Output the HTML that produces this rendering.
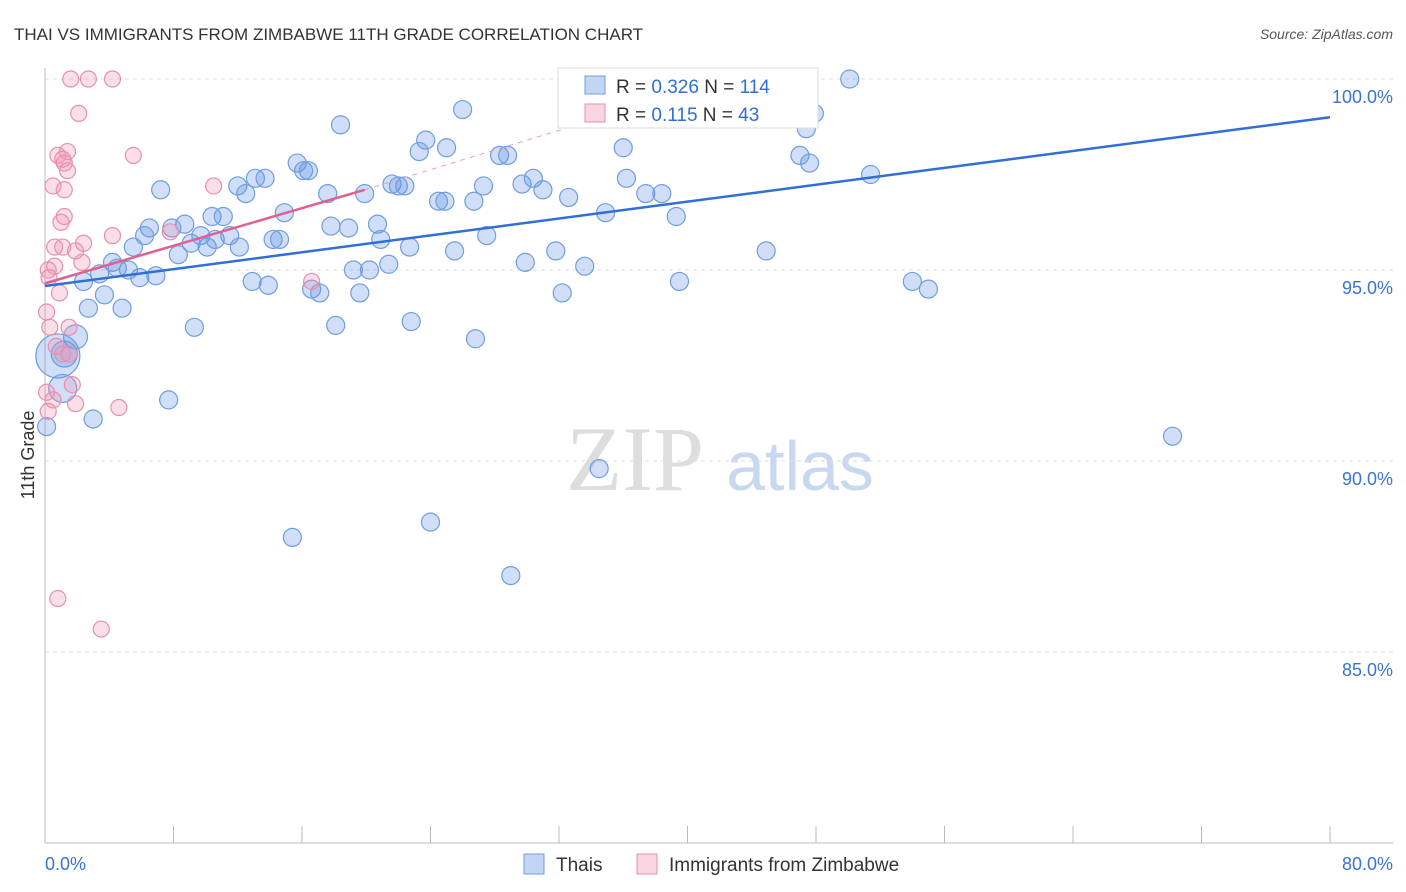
<!DOCTYPE html>
<html><head><meta charset="utf-8"><style>
body{margin:0;background:#fff;font-family:"Liberation Sans",sans-serif;}
svg{display:block}
</style></head><body>
<svg id="chart" width="1406" height="892">
<text x="14" y="40" font-size="17" fill="#333">THAI VS IMMIGRANTS FROM ZIMBABWE 11TH GRADE CORRELATION CHART</text>
<text x="1393" y="39" font-size="14" fill="#555" text-anchor="end" font-style="italic">Source: ZipAtlas.com</text>
<g><text x="635" y="490" font-size="92" fill="#ddd" text-anchor="middle" font-family="Liberation Serif">ZIP</text><text x="800" y="490" font-size="70" fill="#c8d8f0" text-anchor="middle">atlas</text></g>
<g id="grid"></g><g id="axes"></g><g id="pts"></g><g id="trend"></g>
<text transform="translate(34,455) rotate(-90)" font-size="18" fill="#333" text-anchor="middle">11th Grade</text>
<g>
<rect x="558" y="68" width="260" height="60" fill="#fff" stroke="#ddd"/>
<rect x="585" y="76" width="20" height="18" fill="rgba(100,150,230,0.4)" stroke="#6f9de0"/>
<rect x="585" y="104" width="20" height="18" fill="rgba(240,150,180,0.4)" stroke="#e88fb0"/>
<text x="616" y="93" font-size="19" fill="#333">R = <tspan fill="#2f6fd6">0.326</tspan>   N = <tspan fill="#2f6fd6">114</tspan></text>
<text x="616" y="121" font-size="19" fill="#333">R =  <tspan fill="#2f6fd6">0.115</tspan>   N =  <tspan fill="#2f6fd6">43</tspan></text>
</g>
<g>
<rect x="524" y="854" width="20" height="20" fill="rgba(100,150,230,0.4)" stroke="#6f9de0"/>
<text x="556" y="871" font-size="19" fill="#333">Thais</text>
<rect x="637" y="854" width="20" height="20" fill="rgba(240,150,180,0.4)" stroke="#e88fb0"/>
<text x="669" y="871" font-size="19" fill="#333">Immigrants from Zimbabwe</text>
</g>
</svg>
<script>
const yTicks=[100,95,90,85];
const yTickLabels=["100.0%","95.0%","90.0%","85.0%"];
const xTickLabels=["0.0%","80.0%"];
const thaiX=[32.9,41.6,43.6,50.1,33.7,47.9,47.4,26.0,18.4,23.7,23.3,25.0,28.3,28.8,36.0,47.0,47.6,15.7,16.1,16.4,13.1,13.7,12.0,12.5,7.2,17.6,19.9,21.6,22.0,22.4,27.3,29.7,30.4,31.0,32.6,36.2,37.4,38.4,51.4,24.5,24.9,26.7,14.9,10.4,11.1,8.7,6.5,6.2,7.9,9.7,10.1,10.6,11.5,9.1,8.3,5.5,12.1,14.2,14.6,17.8,18.9,20.7,20.9,22.7,27.5,25.5,31.8,34.9,39.3,44.9,4.2,4.5,5.2,5.9,6.9,3.4,2.4,3.7,4.8,2.7,12.9,13.9,16.6,17.1,19.6,19.2,20.2,21.4,29.9,33.6,32.2,39.5,54.0,55.0,9.3,18.1,22.8,26.8,1.9,1.2,0.8,1.1,0.1,3.0,7.7,70.2,34.5,24.0,15.4,29.0];
const thaiY=[100,100,100,100,99.6,99.1,98.7,99.2,98.8,98.4,98.1,98.2,98.0,98.0,98.2,98.0,97.8,97.8,97.6,97.6,97.4,97.4,97.2,97.0,97.1,97.0,97.0,97.25,97.2,97.2,97.2,97.25,97.4,97.1,96.9,97.4,97.0,97.0,97.5,96.8,96.8,96.8,96.5,96.4,96.4,96.2,96.1,95.9,96.1,95.9,95.6,95.8,95.9,95.7,95.4,95.6,95.6,95.8,95.8,96.15,96.1,96.2,95.8,95.6,95.9,95.5,95.5,96.5,96.4,95.5,95.2,95.05,95.0,94.8,94.85,94.9,94.7,94.35,94.0,94.0,94.7,94.6,94.5,94.4,94.4,95.0,95.0,95.15,95.2,95.1,94.4,94.7,94.7,94.5,93.5,93.55,93.65,93.2,93.25,92.8,92.75,91.9,90.9,91.1,91.6,90.65,89.8,88.4,88.0,87.0];
const thaiBig={100:22,101:14,99:13,98:12};
const zimX=[1.6,2.7,4.2,2.1,1.4,0.8,1.1,1.2,1.4,5.5,0.5,1.2,10.5,1.2,1.0,4.2,7.8,2.4,0.6,1.1,1.9,0.2,0.6,2.3,0.25,0.9,16.6,0.1,0.3,1.5,0.7,1.1,1.5,1.7,0.1,0.5,1.9,4.6,0.8,3.5,0.2];
const zimY=[100,100,100,99.1,98.1,98.0,97.9,97.8,97.6,98.0,97.2,97.1,97.2,96.4,96.25,95.9,96.0,95.7,95.6,95.6,95.5,95.0,95.1,95.2,94.8,94.4,94.7,93.9,93.5,93.5,93.0,92.8,92.8,92.0,91.8,91.6,91.5,91.4,86.4,85.6,91.3];
const thaiTrendX=[0,80], thaiTrendY=[94.58,99.0];
const zimTrendX=[0,19.9], zimTrendY=[94.65,97.1];
const zimDashX=[19.9,33.9], zimDashY=[97.1,98.9];
const X=v=>45+v*1285/80, Y=v=>79+(100-v)*38.2;
const NS="http://www.w3.org/2000/svg";
function mk(t,a,p){const e=document.createElementNS(NS,t);for(const k in a)e.setAttribute(k,a[k]);p.appendChild(e);return e;}
const grid=document.getElementById('grid'),axes=document.getElementById('axes'),pts=document.getElementById('pts'),tr=document.getElementById('trend');
yTicks.forEach((v,i)=>{
 const l=mk('line',{x1:45,x2:1393,y1:Y(v),y2:Y(v),stroke:'#ddd','stroke-dasharray':'4,4'},grid);
 
 
 const t=mk('text',{x:1393,y:Y(v)+24,'font-size':18,fill:'#3a74d0','text-anchor':'end'},axes);
 t.textContent=yTickLabels[i];
 
 
});
const xa=mk('line',{x1:45,x2:1393,y1:Y(80),y2:Y(80),stroke:'#bbb'},axes);


const ya=mk('line',{x1:45,x2:45,y1:68,y2:Y(80),stroke:'#bbb'},axes);


for(let k=0;k<=10;k++){const tk=mk('line',{x1:X(k*8),x2:X(k*8),y1:Y(80),y2:Y(80)-17,stroke:'#bbb'},axes);
 
 }
[[X(0),'start'],[1393,'end']].forEach((p,i)=>{const t=mk('text',{x:p[0],y:870,'font-size':18,fill:'#3a74d0','text-anchor':p[1]},axes);t.textContent=xTickLabels[i];
 
 });
thaiX.forEach((x,i)=>{const c=mk('circle',{cx:X(x),cy:Y(thaiY[i]),r:thaiBig[i]||9,fill:'rgba(100,150,230,0.3)',stroke:'#6f9de0','stroke-width':1.2},pts);
 
 });
zimX.forEach((x,i)=>{const c=mk('circle',{cx:X(x),cy:Y(zimY[i]),r:8,fill:'rgba(240,150,180,0.3)',stroke:'#e88fb0','stroke-width':1.2},pts);
 
 });
const l1=mk('line',{x1:X(thaiTrendX[0]),y1:Y(thaiTrendY[0]),x2:X(thaiTrendX[1]),y2:Y(thaiTrendY[1]),stroke:'#2f6fd6','stroke-width':2.5},tr);


const l2=mk('line',{x1:X(zimTrendX[0]),y1:Y(zimTrendY[0]),x2:X(zimTrendX[1]),y2:Y(zimTrendY[1]),stroke:'#e0608f','stroke-width':2.5},tr);


const l3=mk('line',{x1:X(zimDashX[0]),y1:Y(zimDashY[0]),x2:X(zimDashX[1]),y2:Y(zimDashY[1]),stroke:'#e8a0b8','stroke-width':1,'stroke-dasharray':'5,5'},tr);


</script>
</body></html>
